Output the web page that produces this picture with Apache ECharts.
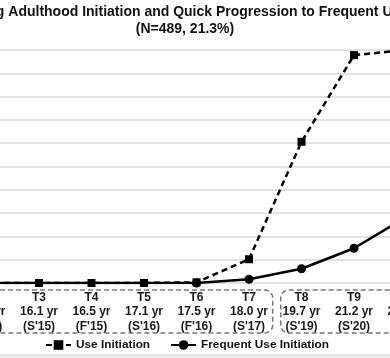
<!DOCTYPE html>
<html>
<head>
<meta charset="utf-8">
<script src="https://cdn.jsdelivr.net/npm/echarts@6/dist/echarts.min.js"></script>
<style>
html,body{margin:0;padding:0;background:#fff;}
#chart{width:390px;height:358px;}
</style>
</head>
<body>
<div id="chart"></div>
<script>
// Data
var waves = ['T1', 'T2', 'T3', 'T4', 'T5', 'T6', 'T7', 'T8', 'T9', 'T10'];
var ages = ['15.1 yr', '15.6 yr', '16.1 yr', '16.5 yr', '17.1 yr', '17.5 yr', '18.0 yr', '19.7 yr', '21.2 yr', '22.2 yr'];
var terms = ["(S'14)", "(F'14)", "(S'15)", "(F'15)", "(S'16)", "(F'16)", "(S'17)", "(S'19)", "(S'20)", "(S'21)"];
var useInitiation = [0, 0, 0, 0, 0, 0.3, 10.2, 60.6, 97.8, 100];
var frequentUseInitiation = [0, 0, 0, 0, 0, 0, 1.6, 6.1, 14.9, 28.4];
var yTicks = [0, 10, 20, 30, 40, 50, 60, 70, 80, 90, 100];
var titleLine1 = 'Young Adulthood Initiation and Quick Progression to Frequent Use';
var titleLine2 = '(N=489, 21.3%)';

var FONT = '"Liberation Sans", Arial, sans-serif';
var categories = waves.map(function (w, i) { return w + '\n' + ages[i] + '\n' + terms[i]; });

var chart = echarts.init(document.getElementById('chart'), null, { renderer: 'canvas' });

var option = {
  backgroundColor: '#ffffff',
  animation: false,
  textStyle: { fontFamily: FONT },
  title: {
    text: titleLine1 + '\n' + titleLine2,
    left: 185,
    textAlign: 'center',
    top: 4,
    padding: 0,
    textStyle: { fontFamily: FONT, fontSize: 14, fontWeight: 'bold', color: '#111', lineHeight: 17 }
  },
  legend: {
    left: 45,
    top: 339,
    padding: 0,
    itemGap: 20,
    itemWidth: 25,
    itemHeight: 12,
    textStyle: { fontFamily: FONT, fontSize: 11.8, fontWeight: 'bold', color: '#111' },
    data: ['Use Initiation', 'Frequent Use Initiation']
  },
  grid: { left: -92.25, right: -42.75, top: 50, bottom: 75, containLabel: false, outerBoundsMode: 'none' },
  xAxis: {
    type: 'category',
    data: categories,
    boundaryGap: true,
    axisLine: { show: false },
    axisTick: { show: false },
    axisLabel: {
      interval: 0,
      margin: 7,
      fontFamily: FONT,
      fontSize: 12,
      fontWeight: 'bold',
      color: '#1a1a1a',
      lineHeight: 14.5
    }
  },
  yAxis: {
    type: 'value',
    min: yTicks[0],
    max: yTicks[yTicks.length - 1],
    interval: yTicks[1] - yTicks[0],
    axisLabel: { show: false },
    axisLine: { show: false },
    axisTick: { show: false },
    splitLine: { lineStyle: { color: '#d9d9d9', width: 1.5 } }
  },
  series: [
    {
      name: 'Use Initiation',
      type: 'line',
      data: useInitiation,
      symbol: 'rect',
      symbolSize: 8,
      z: 2,
      lineStyle: { color: '#000', width: 2.5, type: [6, 4] },
      itemStyle: { color: '#000' }
    },
    {
      name: 'Frequent Use Initiation',
      type: 'line',
      data: frequentUseInitiation.map(function (v, i) {
        return i < 5 ? { value: v, symbol: 'none' } : v;
      }),
      symbol: 'circle',
      symbolSize: 9,
      z: 3,
      lineStyle: { color: '#000', width: 2.5 },
      itemStyle: { color: '#000' }
    }
  ]
};
chart.setOption(option);

// Decorative dashed boxes grouping the waves (positions derived from the axis)
var x7 = chart.convertToPixel({ xAxisIndex: 0 }, categories[6]);
var x8 = chart.convertToPixel({ xAxisIndex: 0 }, categories[7]);
var mid = (x7 + x8) / 2;
chart.setOption({
  graphic: [
    {
      type: 'rect', silent: true, z: 1,
      shape: { x: -40, y: 290, width: mid - 2.5 + 40, height: 43, r: 8 },
      style: { fill: 'none', stroke: '#7a7a7a', lineWidth: 1.5, lineDash: [5, 3] }
    },
    {
      type: 'rect', silent: true, z: 1,
      shape: { x: mid + 5.5, y: 290, width: 200, height: 43, r: 8 },
      style: { fill: 'none', stroke: '#7a7a7a', lineWidth: 1.5, lineDash: [5, 3] }
    },
    {
      type: 'rect', silent: true, z: 0,
      shape: { x: 0, y: 354, width: 390, height: 4 },
      style: { fill: '#e6e6e6' }
    }
  ]
});
</script>
</body>
</html>
